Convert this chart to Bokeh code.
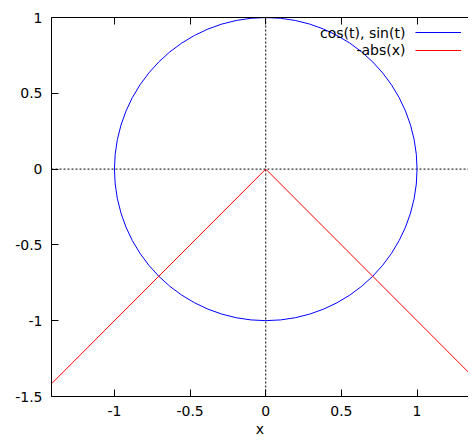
from bokeh.plotting import figure
from bokeh.models import (LinearAxis, FixedTicker, Span, Range1d, Legend, LegendItem, Label)
from bokeh.embed import file_html
from bokeh.resources import INLINE

# ---- data ----
x_ticks = [-1, -0.5, 0, 0.5, 1]
x_tick_labels = ["-1", "-0.5", "0", "0.5", "1"]
y_ticks = [-1.5, -1, -0.5, 0, 0.5, 1]
y_tick_labels = ["-1.5", "-1", "-0.5", "0", "0.5", "1"]

circle_cx = [0]
circle_cy = [0]
circle_diam = [2]

abs_x = [-1.414, 0, 1.414]
abs_y = [-1.414, 0, -1.414]

series_names = ["cos(t), sin(t)", "-abs(x)"]
series_colors = ["#0000ff", "#ff0000"]

FONT = "DejaVu Sans"

p = figure(width=468, height=439, output_backend="svg", toolbar_location=None,
           x_range=Range1d(-1.416, 1.340), y_range=Range1d(-1.5, 1.0),
           x_axis_location=None, y_axis_location=None,
           min_border_left=51, min_border_right=0, min_border_top=17, min_border_bottom=42)
p.outline_line_color = None
p.xgrid.visible = False
p.ygrid.visible = False
p.background_fill_color = "white"
p.border_fill_color = "white"


def style_axis(ax, ticks, labels, show_labels, tick_in=7):
    ax.ticker = FixedTicker(ticks=ticks)
    ax.major_label_overrides = {t: l for t, l in zip(ticks, labels)}
    ax.minor_tick_line_color = None
    ax.major_tick_in = tick_in
    ax.major_tick_out = 0
    ax.major_tick_line_color = "black"
    ax.axis_line_color = "black"
    ax.major_label_text_font = FONT
    if show_labels:
        ax.major_label_text_font_size = "14px"
        ax.major_label_text_color = "black"
    else:
        ax.major_label_text_font_size = "1px"
        ax.major_label_text_color = None
        ax.major_label_standoff = 0


bottom = LinearAxis(axis_label="x")
style_axis(bottom, x_ticks, x_tick_labels, True)
bottom.major_label_standoff = 9
bottom.axis_label_text_font = FONT
bottom.axis_label_text_font_size = "14px"
bottom.axis_label_text_font_style = "normal"
bottom.axis_label_text_color = "black"
bottom.axis_label_standoff = 2
p.add_layout(bottom, "below")

top = LinearAxis()
style_axis(top, x_ticks, x_tick_labels, False)
p.add_layout(top, "above")

left = LinearAxis()
style_axis(left, y_ticks, y_tick_labels, True)
left.major_label_standoff = 9
p.add_layout(left, "left")

# dotted zero axes
p.add_layout(Span(location=0, dimension="height", line_color="black", line_width=1,
                  line_dash="2 2", level="underlay"))
p.add_layout(Span(location=0, dimension="width", line_color="black", line_width=1,
                  line_dash="2 2", level="underlay"))

r_circ = p.ellipse(x=circle_cx, y=circle_cy, width=circle_diam, height=circle_diam,
                   fill_color=None, line_color=series_colors[0], line_width=1)
r_abs = p.line(abs_x, abs_y, line_color=series_colors[1], line_width=1)
# line-style stand-in for the circle's legend sample (a single point draws nothing)
r_circ_key = p.line(x=circle_cx, y=circle_cy, line_color=series_colors[0], line_width=1)

# legend: samples via Legend (labels hidden), texts via Labels to the left (gnuplot style)
legend = Legend(items=[LegendItem(label=series_names[0], renderers=[r_circ_key]),
                       LegendItem(label=series_names[1], renderers=[r_abs])],
                location=(364, 337), glyph_width=46, glyph_height=18,
                label_height=18, label_width=0, label_standoff=0,
                label_text_font_size="1px", label_text_color=None,
                padding=0, margin=0, spacing=0,
                border_line_color=None, background_fill_alpha=0)
p.add_layout(legend, "center")

for name, ly in zip(series_names, [0.899, 0.784]):
    p.add_layout(Label(x=0.923, y=ly, text=name, text_align="right",
                       text_baseline="middle", text_font=FONT,
                       text_font_size="14px", text_color="black"))

open("out.html", "w").write(file_html(p, INLINE))
